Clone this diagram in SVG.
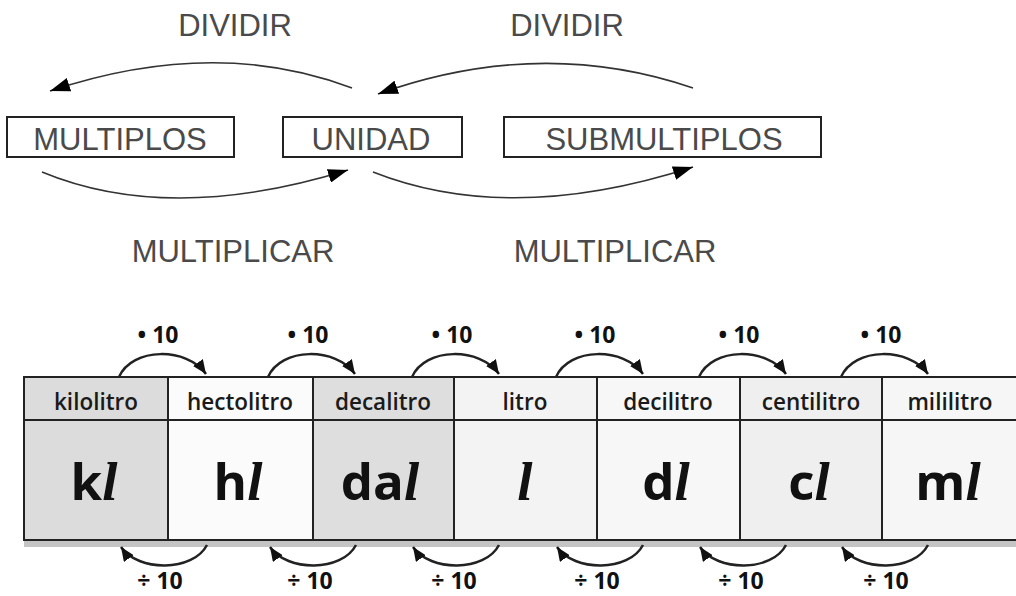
<svg xmlns="http://www.w3.org/2000/svg" width="1016" height="596" viewBox="0 0 1016 596">
<style>
.t{font-family:"Liberation Sans",Arial,sans-serif;font-size:31px;fill:#4a4a4a;text-anchor:middle}
.box{fill:#fff;stroke:#222;stroke-width:2}
.c1{fill:none;stroke:#333;stroke-width:1.6}
.hdr{font-family:"Open Sans",sans-serif;font-weight:600;font-size:22.5px;fill:#1a1a1a;text-anchor:middle}
.sym{font-family:"Open Sans",sans-serif;font-weight:700;font-size:51px;fill:#111;text-anchor:middle}
.it{font-family:"Liberation Serif",serif;font-style:italic;font-weight:700;font-size:55px}
.lbl{font-family:"Open Sans",sans-serif;font-weight:700;font-size:23px;fill:#111;text-anchor:middle}
.c2{fill:none;stroke:#222;stroke-width:2.5}
.cell{stroke:#222;stroke-width:2}
.line{stroke:#222;stroke-width:2}
</style>
<defs>
<marker id="ah" markerUnits="userSpaceOnUse" markerWidth="22" markerHeight="14" refX="20" refY="7" orient="auto"><path d="M0,0 L20,7 L0,14 Z" fill="#000"/></marker>
<marker id="sh" markerUnits="userSpaceOnUse" markerWidth="16" markerHeight="12" refX="14" refY="6" orient="auto"><path d="M0,0 L14,6 L0,12 Z" fill="#111"/></marker>
</defs>

<text class="t" x="235" y="36">DIVIDIR</text>
<text class="t" x="567" y="36">DIVIDIR</text>
<text class="t" x="233" y="262">MULTIPLICAR</text>
<text class="t" x="615" y="262">MULTIPLICAR</text>

<g id="multiplos"><rect class="box" x="7" y="117" width="227" height="40"/><text class="t" x="120" y="150">MULTIPLOS</text></g>
<g id="unidad"><rect class="box" x="283" y="117" width="179" height="40"/><text class="t" x="371" y="150">UNIDAD</text></g>
<g id="submultiplos"><rect class="box" x="504" y="117" width="317" height="40"/><text class="t" x="664" y="150">SUBMULTIPLOS</text></g>

<rect x="24" y="540" width="992" height="7" fill="#c4c4c4"/>
<g id="kl"><rect class="cell" x="24" y="377" width="144" height="163" fill="#dcdcdc"/><line class="line" x1="24" y1="420" x2="168" y2="420"/><text class="hdr" x="96" y="410">kilolitro</text><text class="sym" x="94" y="500">k<tspan class="it">l</tspan></text></g>
<g id="hl"><rect class="cell" x="168" y="377" width="145" height="163" fill="#fbfbfb"/><line class="line" x1="168" y1="420" x2="313" y2="420"/><text class="hdr" x="240" y="410">hectolitro</text><text class="sym" x="238" y="500">h<tspan class="it">l</tspan></text></g>
<g id="dal"><rect class="cell" x="313" y="377" width="141" height="163" fill="#dedede"/><line class="line" x1="313" y1="420" x2="454" y2="420"/><text class="hdr" x="383" y="410">decalitro</text><text class="sym" x="380" y="500">da<tspan class="it">l</tspan></text></g>
<g id="l"><rect class="cell" x="454" y="377" width="143" height="163" fill="#f3f3f3"/><line class="line" x1="454" y1="420" x2="597" y2="420"/><text class="hdr" x="525" y="410">litro</text><text class="sym" x="525" y="500"><tspan class="it">l</tspan></text></g>
<g id="dl"><rect class="cell" x="597" y="377" width="143" height="163" fill="#f7f7f7"/><line class="line" x1="597" y1="420" x2="740" y2="420"/><text class="hdr" x="668" y="410">decilitro</text><text class="sym" x="666" y="500">d<tspan class="it">l</tspan></text></g>
<g id="cl"><rect class="cell" x="740" y="377" width="142" height="163" fill="#efefef"/><line class="line" x1="740" y1="420" x2="882" y2="420"/><text class="hdr" x="811" y="410">centilitro</text><text class="sym" x="809" y="500">c<tspan class="it">l</tspan></text></g>
<g id="ml"><rect class="cell" x="882" y="377" width="140" height="163" fill="#f6f6f6"/><line class="line" x1="882" y1="420" x2="1016" y2="420"/><text class="hdr" x="950" y="410">mililitro</text><text class="sym" x="948" y="500">m<tspan class="it">l</tspan></text></g>

<g id="connectors">
<path class="c1" d="M352,88 Q215,36 50,91" marker-end="url(#ah)"/>
<path class="c1" d="M693,88 Q540,36 378,94" marker-end="url(#ah)"/>
<path class="c1" d="M42,172 Q170,225 348,170" marker-end="url(#ah)"/>
<path class="c1" d="M373,172 Q510,226 693,167" marker-end="url(#ah)"/>

<path class="c2" d="M119,377 C132,347 187,347 206,374" marker-end="url(#sh)"/>
<path class="c2" d="M268,377 C281,347 336,347 355,374" marker-end="url(#sh)"/>
<path class="c2" d="M412,377 C425,347 480,347 499,374" marker-end="url(#sh)"/>
<path class="c2" d="M556,377 C569,347 624,347 643,374" marker-end="url(#sh)"/>
<path class="c2" d="M699,377 C712,347 767,347 786,374" marker-end="url(#sh)"/>
<path class="c2" d="M841,377 C854,347 909,347 928,374" marker-end="url(#sh)"/>

<path class="c2" d="M207,545 C193,572 138,572 121,547" marker-end="url(#sh)"/>
<path class="c2" d="M356,545 C342,572 287,572 270,547" marker-end="url(#sh)"/>
<path class="c2" d="M499,545 C485,572 430,572 413,547" marker-end="url(#sh)"/>
<path class="c2" d="M643,545 C629,572 574,572 557,547" marker-end="url(#sh)"/>
<path class="c2" d="M786,545 C772,572 717,572 700,547" marker-end="url(#sh)"/>
<path class="c2" d="M928,545 C914,572 859,572 842,547" marker-end="url(#sh)"/>

<text class="lbl" x="158" y="343">• 10</text>
<text class="lbl" x="308" y="343">• 10</text>
<text class="lbl" x="452" y="343">• 10</text>
<text class="lbl" x="595" y="343">• 10</text>
<text class="lbl" x="739" y="343">• 10</text>
<text class="lbl" x="881" y="343">• 10</text>
<text class="lbl" x="160" y="589">÷ 10</text>
<text class="lbl" x="310" y="589">÷ 10</text>
<text class="lbl" x="454" y="589">÷ 10</text>
<text class="lbl" x="597" y="589">÷ 10</text>
<text class="lbl" x="741" y="589">÷ 10</text>
<text class="lbl" x="886" y="589">÷ 10</text>
</g>
</svg>
